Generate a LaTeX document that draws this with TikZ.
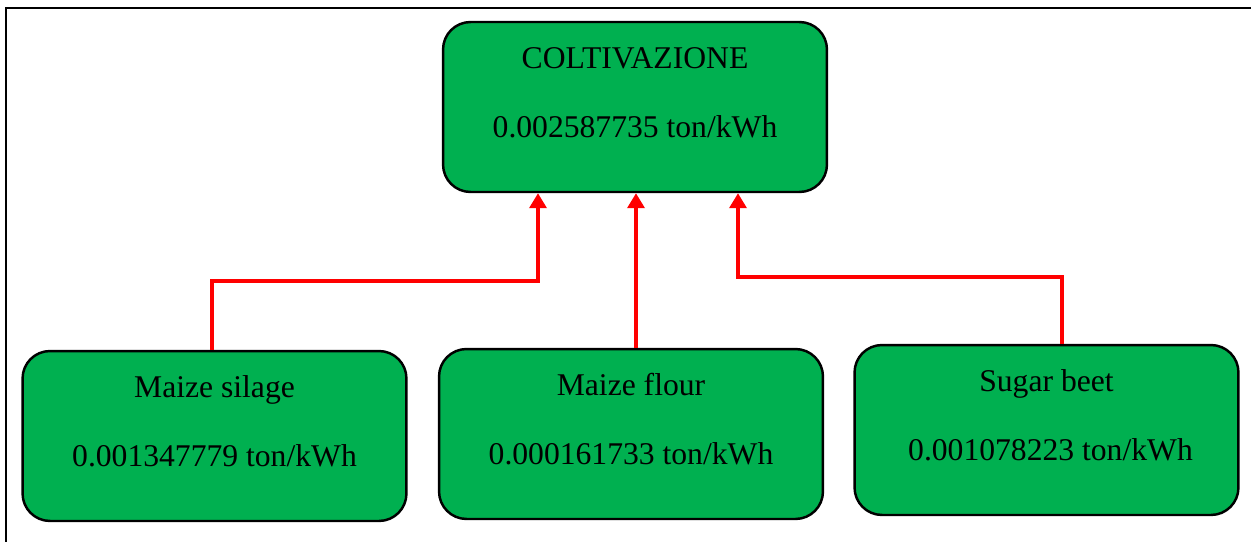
\documentclass[tikz,border=0pt]{standalone}
\usepackage{fontspec}
\setmainfont{Liberation Serif}
\usetikzlibrary{calc,arrows.meta,positioning}
\definecolor{cropgreen}{HTML}{00B050}
\definecolor{flowred}{HTML}{FF0000}

\begin{document}
\begin{tikzpicture}[x=0.02cm,y=-0.02cm,
  cropbox/.style={draw=black, line width=1.4pt, fill=cropgreen, rounded corners=0.55cm,
    minimum width=7.68cm, minimum height=3.4cm, inner sep=0pt},
  croptext/.style={anchor=base, inner sep=0pt, font=\fontsize{18}{22}\selectfont},
  flow/.style={draw=flowred, line width=2pt, -{Triangle[width=0.34cm,length=0.3cm]}}]
\useasboundingbox (0,0) rectangle (1251,541);
\draw[line width=1.6pt] (6,560) -- (6,8) -- (1270,8);
% total
\node[cropbox] (coltiv) at (635,107) {};
\node[croptext] (coltiv-name) at ($(coltiv.north)+(0,48)$) {COLTIVAZIONE};
\node[croptext] (coltiv-val) at ($(coltiv.north)+(0,117)$) {0.002587735 ton/kWh};
% crops
\foreach \nm/\x/\y/\lab/\val/\dx in {silage/214.5/436/Maize silage/0.001347779/0,
    flour/631/434/Maize flour/0.000161733/0, sugar/1046.5/430/Sugar beet/0.001078223/4}{
  \node[cropbox] (\nm) at (\x,\y) {};
  \node[croptext] (\nm-name) at ($(\nm.north)+(0,48)$) {\lab};
  \node[croptext] (\nm-val) at ($(\nm.north)+(\dx,117)$) {\val{} ton/kWh};
}
\coordinate (in-silage) at ($(coltiv.south)+(-97,0)$);
\coordinate (in-flour) at ($(coltiv.south)+(1,0)$);
\coordinate (in-sugar) at ($(coltiv.south)+(103,0)$);
\draw[flow] ($(silage.north)+(-2.5,0)$) -- ++(0,-69) -| (in-silage);
\draw[flow] ($(flour.north)+(5,0)$) -- (in-flour);
\draw[flow] ($(sugar.north)+(15.5,0)$) -- ++(0,-67) -| (in-sugar);
\end{tikzpicture}
\end{document}
